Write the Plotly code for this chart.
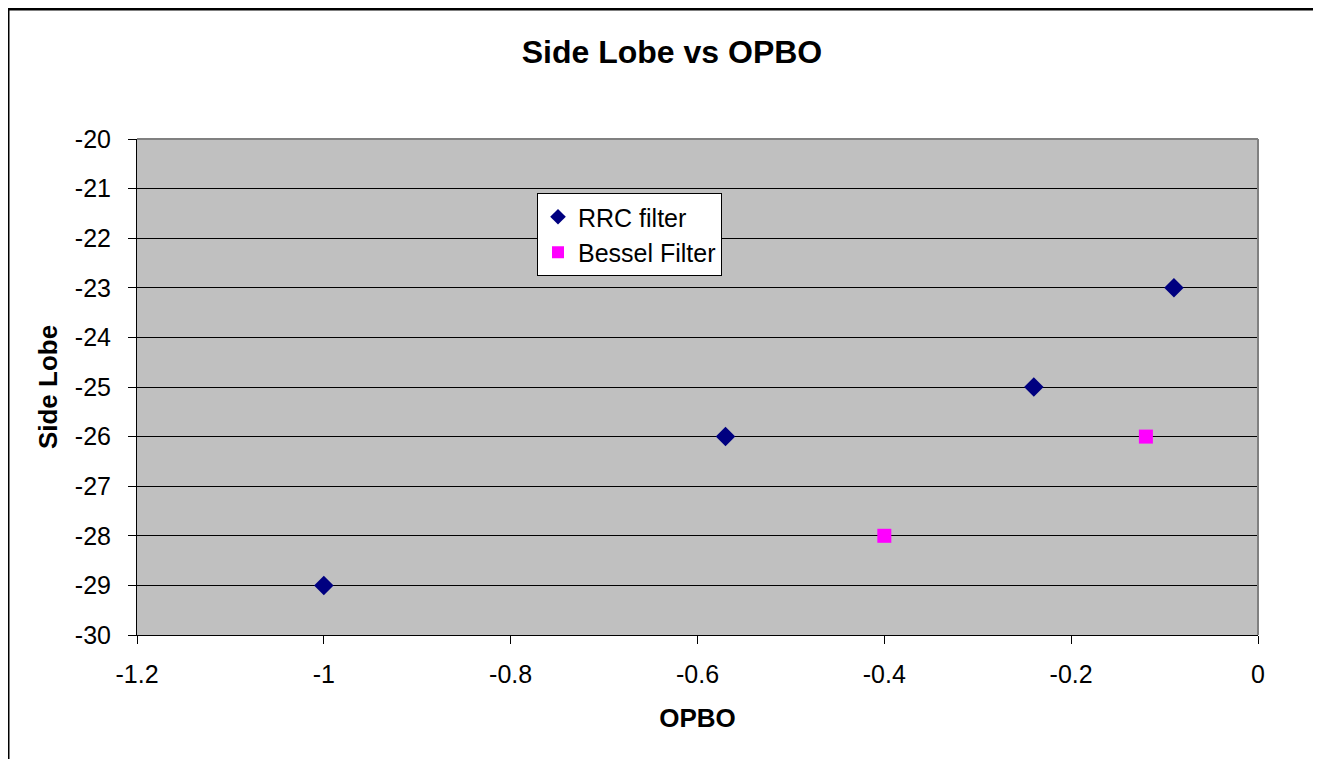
import plotly.graph_objects as go

rrc_x = [-1.0, -0.57, -0.24, -0.09]
rrc_y = [-29, -26, -25, -23]
bessel_x = [-0.4, -0.12]
bessel_y = [-28, -26]
x_ticks = [-1.2, -1.0, -0.8, -0.6, -0.4, -0.2, 0]
x_tick_text = ["-1.2", "-1", "-0.8", "-0.6", "-0.4", "-0.2", "0"]
y_ticks = list(range(-30, -19))
y_tick_text = [str(v) for v in y_ticks]

# page body has an 8px margin; work in figure coordinates = reference - 8
OFF = 8
W, H = 1321 - OFF, 759 - OFF
L, R, T, B = 137 - OFF, 1258 - OFF, 139 - OFF, 635 - OFF

fig = go.Figure()
fig.add_trace(go.Scatter(x=rrc_x, y=rrc_y, mode="markers", name="RRC filter",
                         marker=dict(symbol="diamond", size=15, color="#000080")))
fig.add_trace(go.Scatter(x=bessel_x, y=bessel_y, mode="markers", name="Bessel Filter",
                         marker=dict(symbol="square", size=14, color="#FF00FF")))

font = "Liberation Sans, Arial, sans-serif"
fig.update_layout(
    width=W, height=H,
    margin=dict(l=L, r=W - R, t=T, b=H - B, autoexpand=False),
    paper_bgcolor="white", plot_bgcolor="#C0C0C0",
    font=dict(family=font, size=25, color="black"),
    title=dict(text="<b>Side Lobe vs OPBO</b>", x=(672 - OFF) / W, xanchor="center",
               y=1 - (52 - OFF) / H, yanchor="middle", font=dict(size=32)),
    showlegend=True,
    legend=dict(x=(537 - 137) / (1258 - 137), y=(635 - 193) / (635 - 139),
                xanchor="left", yanchor="top",
                bgcolor="white", bordercolor="black", borderwidth=1,
                font=dict(size=25), itemsizing="constant", tracegroupgap=0),
    xaxis=dict(range=[-1.2, 0], tickvals=x_ticks, ticktext=x_tick_text,
               showgrid=False, zeroline=False, showline=True, linecolor="black", linewidth=1,
               ticks="outside", ticklen=8, tickcolor="black", ticklabelstandoff=9,
               title=dict(text="<b>OPBO</b>", font=dict(size=26), standoff=21)),
    yaxis=dict(range=[-30, -20], tickvals=y_ticks, ticktext=y_tick_text,
               showgrid=True, gridcolor="black", gridwidth=1, zeroline=False,
               showline=True, linecolor="black", linewidth=1,
               ticks="outside", ticklen=8, tickcolor="black", ticklabelstandoff=12,
               title=dict(text="<b>Side Lobe</b>", font=dict(size=26), standoff=9)),
)
# plot area gray frame (top/right)
fig.add_shape(type="line", xref="paper", yref="paper", x0=0, x1=1, y0=1, y1=1,
              line=dict(color="#808080", width=2), layer="above")
fig.add_shape(type="line", xref="paper", yref="paper", x0=1, x1=1, y0=0, y1=1,
              line=dict(color="#808080", width=2), layer="above")
# outer chart border: top and left edges only (others lie outside the picture)
bx0 = (8 - 137) / (1258 - 137)
by1 = (635 - 9) / (635 - 139)
fig.add_shape(type="line", xref="paper", yref="paper", x0=bx0, x1=1.2, y0=by1, y1=by1,
              line=dict(color="black", width=3), layer="above")
fig.add_shape(type="line", xref="paper", yref="paper", x0=bx0, x1=bx0, y0=-0.5, y1=by1,
              line=dict(color="black", width=3), layer="above")

fig.write_html(
    "out.html",
    post_script="document.documentElement.style.overflow='hidden';document.body.style.overflow='hidden';",
)
